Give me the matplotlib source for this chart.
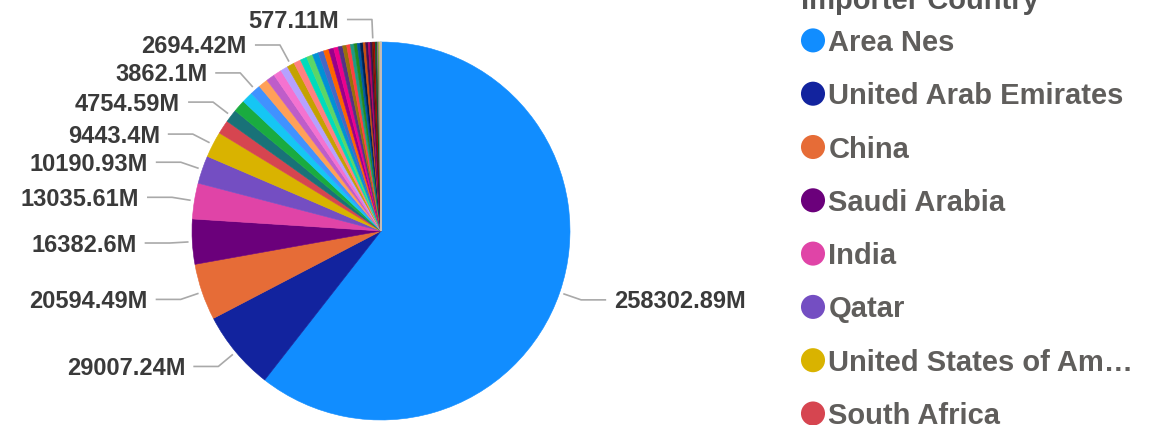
import matplotlib
matplotlib.use("Agg")
import matplotlib.pyplot as plt
import numpy as np

# ---------------- data ----------------
legend_title = "Importer Country"
legend_names = ["Area Nes", "United Arab Emirates", "China", "Saudi Arabia",
                "India", "Qatar", "United States of Am\u2026", "South Africa"]

# slice values (million), sorted descending as in the source chart
values = [258302.89, 29007.24, 20594.49, 16382.6, 13035.61, 10190.93, 9443.4,
          5070, 4754.59, 4450, 4040, 3862.1,
          3500, 3150, 2950, 2730, 2694.42,
          2560, 2420, 2290, 2170, 2050, 1930, 1810, 1700, 1590, 1480,
          1380, 1280, 1190, 1100, 1020, 950, 880, 760, 690,
          577.11,
          480, 420, 360, 300, 250, 200, 160, 125, 95, 70, 50, 35, 25, 18, 12, 8, 5, 3]

# slices whose data label is displayed
labeled_values = [258302.89, 29007.24, 20594.49, 16382.6, 13035.61, 10190.93,
                  9443.4, 4754.59, 3862.1, 2694.42, 577.11]

palette = ["#118DFF", "#12239E", "#E66C37", "#6B007B", "#E044A7", "#744EC2",
           "#D9B300", "#D64550", "#197278", "#1AAB40", "#15C6F4", "#4092FF",
           "#FFA058", "#BE5DC9", "#F472D0", "#B5A1FF", "#C4A200", "#FF8080",
           "#00DBBC", "#5BD667", "#0091D5", "#4668C5", "#FF6300", "#99008A",
           "#EC008C", "#533285", "#99700A", "#FF4141", "#1F9A85", "#25891C",
           "#0057A2", "#002050", "#C94F0F", "#450F54", "#B60064", "#34124F",
           "#6A1C00", "#A80000", "#0C4D47", "#1A5A16", "#8C6A9E", "#5E8C31",
           "#C9B26D", "#8AA0B0", "#E4D84E", "#A7C957", "#E0A96D", "#7FB3D5",
           "#D7BDE2", "#F5CBA7", "#ABEBC6", "#F2E94E", "#AED6F1", "#E8A0A0",
           "#B8BEBE"]

# ---------------- layout ----------------
W, H = 1162, 425
fig = plt.figure(figsize=(W / 100, H / 100), dpi=100)
ax = fig.add_axes([0, 0, 1, 1])

cx, cy, R = 381, H - 231, 189
colors = [palette[i % len(palette)] for i in range(len(values))]
wedges, _ = ax.pie(values, colors=colors, startangle=90, counterclock=False,
                   center=(cx, cy), radius=R, wedgeprops=dict(linewidth=0.4))
for w, c in zip(wedges, colors):
    w.set_edgecolor(c)
ax.set_xlim(0, W)
ax.set_ylim(0, H)
ax.set_aspect("auto")
ax.axis("off")

label_color = "#3a3a3a"
line_color = "#a9a9a9"
font = ["Liberation Sans", "Arial", "DejaVu Sans"]

for w, v in zip(wedges, values):
    if v not in labeled_values:
        continue
    mid = np.deg2rad((w.theta1 + w.theta2) / 2)
    x1, y1 = cx + R * 1.02 * np.cos(mid), cy + R * 1.02 * np.sin(mid)
    x2, y2 = cx + R * 1.12 * np.cos(mid), cy + R * 1.12 * np.sin(mid)
    d = 1 if np.cos(mid) >= 0 else -1
    x3 = x2 + d * 25
    ax.plot([x1, x2, x3], [y1, y2, y2], color=line_color, lw=1.2,
            solid_capstyle="butt", clip_on=False)
    ax.text(x3 + d * 8, y2 - 8.5, f"{v}M", ha="left" if d > 0 else "right",
            va="baseline", fontsize=17, fontweight="bold", color=label_color,
            family=font)

# ---------------- legend ----------------
legend_text_color = "#605E5C"
ax.text(801, H - 9, legend_title, fontsize=21, fontweight="bold",
        color="#555555", ha="left", va="baseline", family=font, clip_on=False)
for i, name in enumerate(legend_names):
    yc = H - (40.4 + i * 53.3)
    ax.scatter([813], [yc], s=300, color=colors[i], edgecolors="none",
               clip_on=False)
    ax.text(828.5, yc - 10.5, name, fontsize=21, fontweight="bold",
            color=legend_text_color, ha="left", va="baseline", family=font)

fig.savefig("out.png", dpi=100)
